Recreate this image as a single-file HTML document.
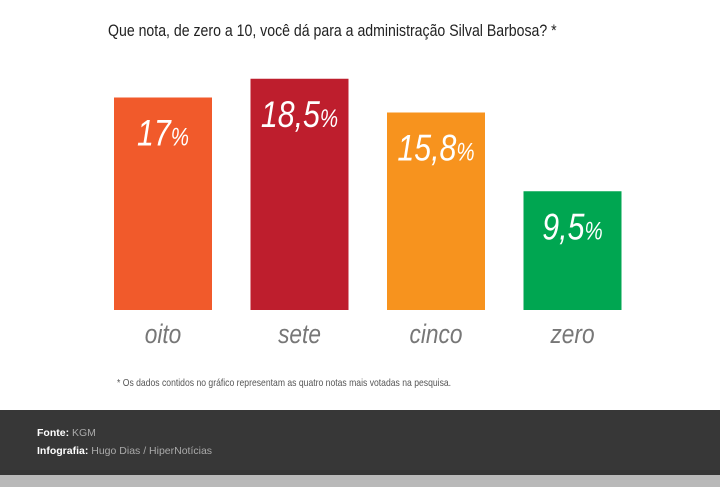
<!DOCTYPE html>
<html><head><meta charset="utf-8">
<style>
body{margin:0;width:720px;height:487px;overflow:hidden;background:#fff;font-family:"Liberation Sans",sans-serif;position:relative}
#title{position:absolute;left:108px;top:21px;font-size:17px;color:#222;white-space:nowrap;transform:scaleX(0.83);transform-origin:0 0}
#note{position:absolute;left:117px;top:377px;font-size:10.5px;color:#555;white-space:nowrap;transform:scaleX(0.82);transform-origin:0 0}
#footer{position:absolute;left:0;top:410px;width:720px;height:65px;background:#373737}
#footbar{position:absolute;left:0;top:475px;width:720px;height:12px;background:#b9b9b9}
.fl{position:absolute;left:37px;font-size:10.5px;color:#aaa}
.fl b{color:#fff}
</style></head><body>
<div id="title">Que nota, de zero a 10, você dá para a administração Silval Barbosa? *</div>
<svg id="chart" width="720" height="370" style="position:absolute;left:0;top:0"></svg>
<div id="note">* Os dados contidos no gráfico representam as quatro notas mais votadas na pesquisa.</div>
<div id="footer">
<div class="fl" style="top:17px"><b>Fonte:</b> KGM</div>
<div class="fl" style="top:35px"><b>Infografia:</b> Hugo Dias / HiperNotícias</div>
</div>
<div id="footbar"></div>
<script>
const categories=["oito","sete","cinco","zero"];
const values=[17,18.5,15.8,9.5];
const valueLabels=["17","18,5","15,8","9,5"];
const colors=["#f15a2b","#be1e2d","#f7931e","#00a651"];
const ns="http://www.w3.org/2000/svg";
const svg=document.getElementById("chart");
const base=310,scale=12.5,x0=114,step=136.5,bw=98;
const y=v=>base-v*scale;
const xb=i=>x0+i*step;
categories.forEach((c,i)=>{
 const r=document.createElementNS(ns,"rect");
 r.setAttribute("x",xb(i));r.setAttribute("y",y(values[i]));
 r.setAttribute("width",bw);r.setAttribute("height",base-y(values[i]));
 r.setAttribute("fill",colors[i]);
 
 
 svg.appendChild(r);
 const g=document.createElementNS(ns,"g");
 g.setAttribute("transform","translate("+(xb(i)+bw/2)+","+(y(values[i])+48)+") scale(0.82,1)");
 const t=document.createElementNS(ns,"text");
 t.setAttribute("text-anchor","middle");t.setAttribute("fill","#fff");
 t.setAttribute("font-style","italic");t.setAttribute("font-size","37");
 t.setAttribute("font-family",'"Liberation Sans",sans-serif');
 t.textContent=valueLabels[i];
 const p=document.createElementNS(ns,"tspan");p.setAttribute("font-size","25");p.textContent="%";
 t.appendChild(p);
 
 
 g.appendChild(t);svg.appendChild(g);
 const g2=document.createElementNS(ns,"g");
 g2.setAttribute("transform","translate("+(xb(i)+bw/2)+",343) scale(0.84,1)");
 const l=document.createElementNS(ns,"text");
 l.setAttribute("text-anchor","middle");l.setAttribute("fill","#777");
 l.setAttribute("font-style","italic");l.setAttribute("font-size","27");
 l.setAttribute("font-family",'"Liberation Sans",sans-serif');
 l.textContent=c;
 
 
 g2.appendChild(l);svg.appendChild(g2);
});
</script>
</body></html>
